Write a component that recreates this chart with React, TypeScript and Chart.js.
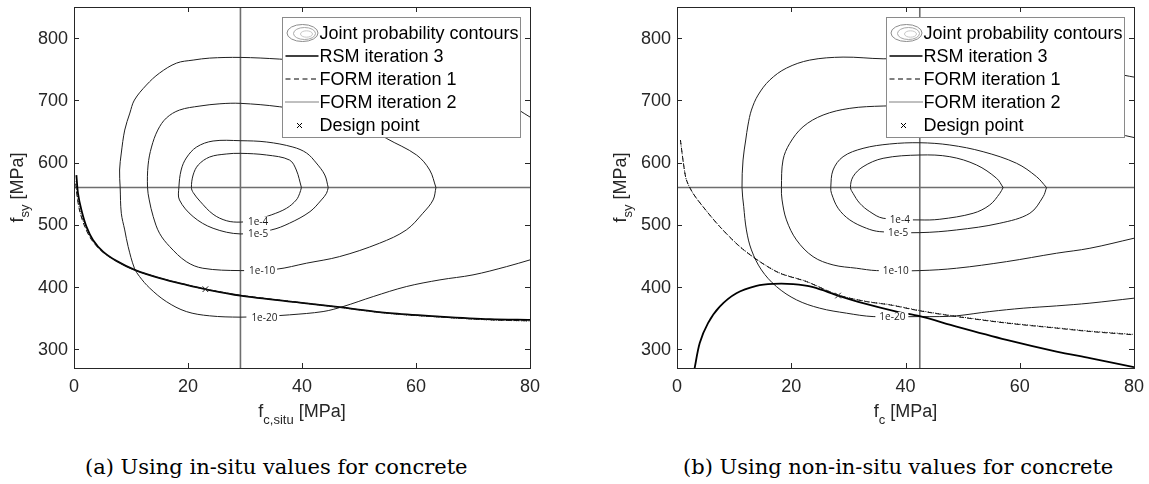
import { useEffect, useRef } from "react";
import { Chart, registerables } from "chart.js";

Chart.register(...registerables);

type Pt = [number, number];

// Axis ranges and ticks shared by both panels
const X_MIN = 0;
const X_MAX = 80;
const Y_MIN = 270;
const Y_MAX = 850;
const X_TICKS = [0, 20, 40, 60, 80];
const Y_TICKS = [300, 400, 500, 600, 700, 800];
const CONTOUR_LEVELS = ["1e-4", "1e-5", "1e-10", "1e-20"];
const LEGEND_LABELS = [
  "Joint probability contours",
  "RSM iteration 3",
  "FORM iteration 1",
  "FORM iteration 2",
  "Design point",
];

// ---------- (a) in-situ concrete strength ----------
const meanA: Pt = [29.2, 560];
const contourA_1e4: Pt[] = [
  [39.9, 560], [39.6, 550.7], [39.0, 540], [37.3, 526.7], [34.6, 515.9], [31.6, 507.5],
  [29.2, 504.4], [26.8, 506.5], [24.4, 517], [22.1, 538], [20.9, 552], [20.6, 560],
  [20.9, 580.1], [21.8, 596.2], [23.8, 609], [26.7, 613.8], [29.2, 614.9], [33.8, 612.2],
  [37.8, 604.2], [39.0, 588.1], [39.9, 560],
];
const contourA_1e5: Pt[] = [
  [44.6, 560], [44.3, 550.7], [43.4, 540], [41.4, 521.2], [37.8, 502.6], [34.6, 491.8],
  [29.2, 485.4], [24.4, 494.5], [20.9, 513.2], [18.5, 540], [18.4, 560], [18.8, 588.1],
  [19.7, 607.4], [21.5, 625], [24.4, 634.7], [29.2, 635.2], [33.8, 633.1], [38.4, 625],
  [40.8, 615.4], [42.5, 599.4], [44.0, 580.1], [44.6, 560],
];
const contourA_1e10: Pt[] = [
  [63.5, 560], [63.0, 540], [61.2, 518.6], [58.3, 491.8], [53.6, 470.5], [46.6, 449],
  [40.8, 438.4], [35.5, 428.7], [29.2, 426.5], [22.6, 430.3], [19.7, 440.9], [16.8, 465],
  [15.0, 486.5], [13.9, 513.2], [13.2, 540], [12.9, 560], [13.0, 596.2], [13.6, 625],
  [14.7, 652.3], [16.2, 671.6], [18.5, 684.4], [22.1, 690.9], [25.6, 694.5], [29.2, 695.2],
  [36.1, 689.7], [44.9, 676.4], [51.9, 655.5], [54.8, 639], [60.1, 612.2], [62.4, 588.1],
  [63.5, 560],
];
const contourA_1e20: Pt[] = [
  [80, 443.7], [75.9, 432.9], [70.0, 419.6], [64.2, 411.6], [58.3, 400.8], [52.5, 384.8],
  [47.2, 368.7], [43.7, 360.7], [37.8, 355.4], [33.5, 353], [29.2, 351.7], [23.8, 353.8],
  [19.7, 360.7], [16.2, 376.7], [13.3, 398.2], [11.5, 416.9], [10.6, 430.3], [9.5, 465],
  [8.9, 491.8], [8.3, 518.6], [8.1, 560], [8.0, 588.1], [8.3, 615.4], [8.9, 652.3],
  [9.8, 679.6], [10.6, 700.5], [12.7, 724.6], [15.0, 743.8], [18.0, 759.9], [20.9, 764.7],
  [23.8, 767.9], [29.2, 769], [36.1, 766.3], [43.1, 761.5], [50.1, 753.5], [57.1, 742.2],
  [64.2, 727.8], [71.2, 708.5], [76.4, 692.5], [80, 673.2],
];
const rsmA: Pt[] = [
  [0.42, 580], [0.7, 550.7], [1.3, 523.9], [2.18, 497.1], [3.33, 475.8], [5.09, 457],
  [7.44, 442.1], [10.65, 427.6], [15.04, 414.3], [19.72, 403.5], [23.05, 396.6],
  [29.19, 386.4], [39.6, 375.1], [46.6, 367.7], [55.4, 358.1], [64.2, 352.7], [73.0, 348.5],
  [80, 347.4],
];
const form1A: Pt[] = [
  [0.3, 566], [0.55, 545], [1.0, 522], [1.85, 498], [3.0, 477], [4.8, 458], [7.2, 443],
  [10.5, 428], [15, 414.8], [19.7, 403.8], [23.05, 396.8], [29.2, 386.8], [39.6, 375.3],
  [46.6, 367.6], [55.4, 357.8], [64.2, 352], [73, 347.4], [80, 345.8],
];
const form2A: Pt[] = [
  [0.35, 570], [0.6, 547], [1.05, 523], [1.9, 499], [3.05, 477.5], [4.85, 458.3],
  [7.25, 443], [10.5, 428], [15, 414.6], [19.7, 403.6], [23.05, 396.7], [29.2, 386.6],
  [39.6, 375.1], [46.6, 367.3], [55.4, 357.5], [64.2, 351.8], [73, 347.2], [80, 345.5],
];
const designA: Pt = [23.05, 396.6];
const labelPosA: Pt[] = [[32.3, 505.4], [32.3, 486.4], [33.0, 426.3], [33.4, 351.5]];

// ---------- (b) non-in-situ concrete strength ----------
const meanB: Pt = [42.5, 560];
const contourB_1e4: Pt[] = [
  [57.09, 560], [56.52, 550.7], [54.76, 532], [51.84, 518.6], [46.01, 509], [42.5, 507.9],
  [36.08, 510.6], [33.75, 521.2], [31.99, 534.7], [30.82, 550.7], [30.37, 560],
  [30.82, 577.4], [32.57, 593.4], [36.08, 606.9], [42.5, 612.2], [47.76, 609.5],
  [52.43, 596.2], [55.94, 574.8], [57.09, 560],
];
const contourB_1e5: Pt[] = [
  [64.69, 560], [64.1, 545.3], [61.77, 518.6], [56.52, 502.6], [48.93, 491.8], [42.5, 487.5],
  [35.5, 489.1], [33.17, 494.5], [30.25, 507.9], [28.2, 526.7], [27.04, 550.7], [26.92, 560],
  [27.32, 588.1], [29.07, 609.5], [32.57, 622.9], [37.25, 629.9], [42.5, 631.9],
  [47.76, 628.3], [53.59, 617.5], [59.44, 598.9], [62.94, 577.4], [64.69, 560],
];
const contourB_1e10: Pt[] = [
  [80, 478.5], [72.28, 462.4], [66.44, 454.4], [57.69, 440.9], [48.93, 430.3], [42.5, 426.5],
  [34.92, 426.5], [31.42, 430.3], [27.32, 435.6], [23.82, 448.9], [20.91, 475.8],
  [19.16, 507.9], [18.39, 540], [18.28, 560], [18.56, 604.2], [19.74, 630.9], [22.07, 657.6],
  [25.57, 676.4], [30.25, 687.2], [36.08, 690.9], [42.5, 690.9], [49.51, 687.6],
  [56.52, 681.2], [65.27, 668.4], [74.03, 652.3], [80, 640.3],
];
const contourB_1e20: Pt[] = [
  [80, 382.2], [72.28, 374.2], [66.44, 369.8], [60.6, 366.1], [54.76, 360.7], [48.93, 353.8],
  [46.01, 352.6], [42.5, 352.6], [34.33, 352.6], [29.67, 358.1], [24.99, 366.1],
  [20.91, 379.5], [17.41, 400.8], [14.78, 427.6], [13.03, 459.7], [12.15, 491.8],
  [11.68, 529.2], [11.38, 560], [11.56, 604.2], [12.03, 636.3], [12.43, 660.4],
  [13.03, 684.4], [14.19, 708.5], [16.23, 732.6], [19.16, 751.8], [23.24, 764.7],
  [29.07, 769.5], [36.08, 766.8], [42.5, 767.9], [53.01, 764.7], [63.52, 758.3],
  [74.03, 748.6], [78.41, 740.1], [80, 737.4],
];
const rsmB: Pt[] = [
  [3.05, 268], [3.98, 310], [5.43, 342.1], [7.48, 368.7], [10.4, 390.2], [13.91, 401.9],
  [16.81, 405.1], [20.32, 404.7], [23.82, 399.9], [28.2, 386.4], [32.57, 374.2],
  [38.42, 360.7], [42.5, 353.3], [48.93, 336.6], [57.69, 315.3], [66.44, 296.5],
  [72.28, 285.9], [80, 271.4],
];
const form1B: Pt[] = [
  [0.6, 636.3], [1.17, 596.2], [1.65, 572.1], [2.8, 550.7], [4.55, 529.2], [7.48, 497.1],
  [10.98, 465], [14.48, 440.9], [17.98, 422.3], [22.66, 408.8], [28.2, 387.2],
  [33.17, 376.7], [37.25, 371.4], [42.5, 361.8], [48.93, 352.6], [57.69, 342.1],
  [66.44, 334], [72.28, 328.6], [80, 323.3],
];
const form2B: Pt[] = [
  [0.61, 635], [1.18, 595.6], [1.66, 571.8], [2.81, 550.6], [4.56, 529.1], [7.49, 497.3],
  [10.99, 465.3], [14.49, 441.2], [17.99, 422.7], [22.66, 409.1], [28.2, 387.3],
  [33.17, 377], [37.25, 371.8], [42.5, 362.3], [48.93, 353.1], [57.69, 342.7],
  [66.44, 334.6], [72.28, 329.3], [80, 324],
];
const designB: Pt = [28.2, 386.4];
const labelPosB: Pt[] = [[39.0, 508.9], [38.7, 487.4], [38.3, 425.8], [37.7, 351.9]];

type PanelData = {
  mean: Pt;
  contours: Pt[][];
  rsm: Pt[];
  form1: Pt[];
  form2: Pt[];
  design: Pt;
  labelPos: Pt[];
  labelPad: [number, number];
  xSub: string;
};

const panelA: PanelData = {
  mean: meanA,
  contours: [contourA_1e4, contourA_1e5, contourA_1e10, contourA_1e20],
  rsm: rsmA,
  form1: form1A,
  form2: form2A,
  design: designA,
  labelPos: labelPosA,
  labelPad: [5, 2],
  xSub: "c,situ",
};

const panelB: PanelData = {
  mean: meanB,
  contours: [contourB_1e4, contourB_1e5, contourB_1e10, contourB_1e20],
  rsm: rsmB,
  form1: form1B,
  form2: form2B,
  design: designB,
  labelPos: labelPosB,
  labelPad: [4, 3],
  xSub: "c",
};

const SANS = "'Liberation Sans', Arial, Helvetica, sans-serif";
const INK = "#262626";
const CANVAS_H = 440;

const toXY = (pts: Pt[]) => pts.map(([x, y]) => ({ x, y }));

function drawSubscripted(
  ctx: CanvasRenderingContext2D,
  base: string,
  sub: string,
  rest: string,
  x: number,
  y: number,
  subShift: number
) {
  const mainFont = `18px ${SANS}`;
  const subFont = `13px ${SANS}`;
  ctx.font = mainFont;
  const wBase = ctx.measureText(base).width;
  const wRest = ctx.measureText(rest).width;
  ctx.font = subFont;
  const wSub = ctx.measureText(sub).width;
  const total = wBase + wSub + wRest;
  let cx = x - total / 2;
  ctx.textAlign = "left";
  ctx.textBaseline = "alphabetic";
  ctx.font = mainFont;
  ctx.fillText(base, cx, y);
  cx += wBase;
  ctx.font = subFont;
  ctx.fillText(sub, cx, y + subShift);
  cx += wSub;
  ctx.font = mainFont;
  ctx.fillText(rest, cx, y);
}

function makeDecor(p: PanelData) {
  return {
    id: "panelDecor",
    afterDatasetsDraw(chart: any) {
      const { ctx, chartArea: a, scales } = chart;
      const xs = scales.x;
      const ys = scales.y;
      ctx.save();

      // contour level labels, the line is broken under each label
      ctx.font = "10px 'Open Sans', 'Noto Sans', sans-serif";
      ctx.textAlign = "center";
      ctx.textBaseline = "middle";
      p.labelPos.forEach(([lx, ly], i) => {
        const text = CONTOUR_LEVELS[i];
        const px = xs.getPixelForValue(lx);
        const py = ys.getPixelForValue(ly);
        const w = ctx.measureText(text).width;
        ctx.fillStyle = "#ffffff";
        ctx.fillRect(px - w / 2 - p.labelPad[0], py - 5, w + p.labelPad[0] + p.labelPad[1], 10);
        ctx.fillStyle = "#1a1a1a";
        ctx.fillText(text, px, py + 0.5);
      });

      // axes box with inward ticks on all four sides
      ctx.strokeStyle = INK;
      ctx.lineWidth = 1;
      ctx.strokeRect(a.left + 0.5, a.top + 0.5, a.right - a.left, a.bottom - a.top);
      const tl = 5;
      ctx.beginPath();
      X_TICKS.forEach((t) => {
        const px = Math.round(xs.getPixelForValue(t)) + 0.5;
        ctx.moveTo(px, a.bottom);
        ctx.lineTo(px, a.bottom - tl);
        ctx.moveTo(px, a.top);
        ctx.lineTo(px, a.top + tl);
      });
      Y_TICKS.forEach((t) => {
        const py = Math.round(ys.getPixelForValue(t)) + 0.5;
        ctx.moveTo(a.left, py);
        ctx.lineTo(a.left + tl, py);
        ctx.moveTo(a.right, py);
        ctx.lineTo(a.right - tl, py);
      });
      ctx.stroke();

      // legend
      const LW = 238;
      const LH = 120;
      const x0 = Math.round(a.right - 10 - LW) + 0.5;
      const y0 = Math.round(a.top + 9.5) + 0.5;
      ctx.fillStyle = "#ffffff";
      ctx.fillRect(x0, y0, LW, LH);
      ctx.strokeStyle = "#8a8a8a";
      ctx.lineWidth = 1;
      ctx.strokeRect(x0, y0, LW, LH);
      const rows = [15.5, 38.5, 61.5, 84.5, 108];

      // contour icon: nested ellipses
      const ey = y0 + rows[0];
      ctx.lineWidth = 1;
      ctx.strokeStyle = "#8c8c8c";
      ctx.beginPath();
      ctx.ellipse(x0 + 20, ey, 15.5, 8.5, 0, 0, Math.PI * 2);
      ctx.stroke();
      ctx.strokeStyle = "#a8a8a8";
      ctx.beginPath();
      ctx.ellipse(x0 + 22, ey + 0.5, 11, 6, 0, 0, Math.PI * 2);
      ctx.stroke();
      ctx.strokeStyle = "#c8c8c8";
      ctx.beginPath();
      ctx.ellipse(x0 + 24, ey + 1, 6, 3.2, 0, 0, Math.PI * 2);
      ctx.stroke();

      const sx0 = x0 + 3;
      const sx1 = x0 + 36;
      ctx.strokeStyle = "#000";
      ctx.lineWidth = 1.3;
      ctx.beginPath();
      ctx.moveTo(sx0, y0 + rows[1]);
      ctx.lineTo(sx1, y0 + rows[1]);
      ctx.stroke();
      ctx.lineWidth = 1;
      ctx.setLineDash([5, 3.5]);
      ctx.beginPath();
      ctx.moveTo(sx0, y0 + rows[2]);
      ctx.lineTo(sx1, y0 + rows[2]);
      ctx.stroke();
      ctx.setLineDash([1, 1]);
      ctx.beginPath();
      ctx.moveTo(sx0, y0 + rows[3]);
      ctx.lineTo(sx1, y0 + rows[3]);
      ctx.stroke();
      ctx.setLineDash([]);
      const mx = x0 + 17;
      const my = y0 + rows[4];
      ctx.beginPath();
      ctx.moveTo(mx - 2.5, my - 2.5);
      ctx.lineTo(mx + 2.5, my + 2.5);
      ctx.moveTo(mx - 2.5, my + 2.5);
      ctx.lineTo(mx + 2.5, my - 2.5);
      ctx.stroke();

      ctx.fillStyle = "#000";
      ctx.font = `18px ${SANS}`;
      ctx.textAlign = "left";
      ctx.textBaseline = "middle";
      LEGEND_LABELS.forEach((t, i) => ctx.fillText(t, x0 + 37, y0 + rows[i] + 1));

      ctx.restore();
    },
    afterDraw(chart: any) {
      const { ctx, chartArea: a, scales } = chart;
      const xs = scales.x;
      const ys = scales.y;
      ctx.save();
      ctx.fillStyle = INK;
      ctx.font = `18px ${SANS}`;
      ctx.textBaseline = "middle";
      ctx.textAlign = "center";
      X_TICKS.forEach((t) => ctx.fillText(String(t), xs.getPixelForValue(t), a.bottom + 19));
      ctx.textAlign = "right";
      Y_TICKS.forEach((t) => ctx.fillText(String(t), a.left - 6, ys.getPixelForValue(t) + 0.5));

      // axis titles with subscripts
      const cx = (a.left + a.right) / 2;
      drawSubscripted(ctx, "f", p.xSub, " [MPa]", cx, a.bottom + 49, 6.5);
      ctx.translate(a.left - 51, (a.top + a.bottom) / 2);
      ctx.rotate(-Math.PI / 2);
      drawSubscripted(ctx, "f", "sy", " [MPa]", 0, 0, 5.5);
      ctx.restore();
    },
  };
}

function Panel({ data, left, width, pad }: { data: PanelData; left: number; width: number; pad: any }) {
  const ref = useRef<HTMLCanvasElement>(null);
  useEffect(() => {
    const line = (pts: Pt[], extra: any) => ({
      data: toXY(pts),
      showLine: true,
      pointRadius: 0,
      borderColor: "#1f1f1f",
      borderWidth: 1,
      tension: 0.35,
      ...extra,
    });
    const [mx, my] = data.mean;
    const chart = new Chart(ref.current as HTMLCanvasElement, {
      type: "scatter",
      data: {
        datasets: [
          ...data.contours.map((c) => line(c, { order: 5 })),
          line([[mx, Y_MIN], [mx, Y_MAX]], { borderColor: "#6e6e6e", borderWidth: 1.6, tension: 0, order: 6 }),
          line([[X_MIN, my], [X_MAX, my]], { borderColor: "#6e6e6e", borderWidth: 1.6, tension: 0, order: 6 }),
          line(data.rsm, { borderColor: "#000", borderWidth: 1.8, tension: 0.3, order: 3 }),
          line(data.form1, { borderColor: "#111", borderWidth: 1, borderDash: [5, 3], tension: 0.3, order: 2 }),
          line(data.form2, { borderColor: "#111", borderWidth: 1, borderDash: [1, 1.5], tension: 0.3, order: 1 }),
          {
            data: toXY([data.design]),
            showLine: false,
            pointStyle: "crossRot",
            pointRadius: 4,
            borderWidth: 1,
            borderColor: "#222",
            order: 0,
          },
        ],
      } as any,
      options: {
        responsive: false,
        maintainAspectRatio: false,
        animation: false,
        events: [],
        layout: { padding: pad },
        scales: {
          x: { type: "linear", min: X_MIN, max: X_MAX, display: false },
          y: { type: "linear", min: Y_MIN, max: Y_MAX, display: false },
        },
        plugins: { legend: { display: false }, tooltip: { enabled: false } },
      },
      plugins: [makeDecor(data)],
    });
    return () => chart.destroy();
  }, []);
  return (
    <div style={{ position: "absolute", left, top: 0, width, height: CANVAS_H }}>
      <canvas ref={ref} width={width} height={CANVAS_H} style={{ width, height: CANVAS_H, display: "block" }} />
    </div>
  );
}

const captionStyle: any = {
  position: "absolute",
  top: 456,
  fontFamily: "'DejaVu Serif', 'Liberation Serif', serif",
  fontSize: 21,
  lineHeight: "22px",
  color: "#000",
  whiteSpace: "nowrap",
};

export default function App() {
  return (
    <div style={{ position: "absolute", left: 0, top: 0, width: 1149, height: 484, background: "#fff", overflow: "hidden" }}>
      <Panel data={panelA} left={0} width={574} pad={{ left: 74, top: 7, right: 44, bottom: CANVAS_H - 368 }} />
      <Panel data={panelB} left={574} width={575} pad={{ left: 103, top: 7, right: 15, bottom: CANVAS_H - 368 }} />
      <div style={{ ...captionStyle, left: 85 }}>(a) Using in-situ values for concrete</div>
      <div style={{ ...captionStyle, left: 683 }}>(b) Using non-in-situ values for concrete</div>
    </div>
  );
}
